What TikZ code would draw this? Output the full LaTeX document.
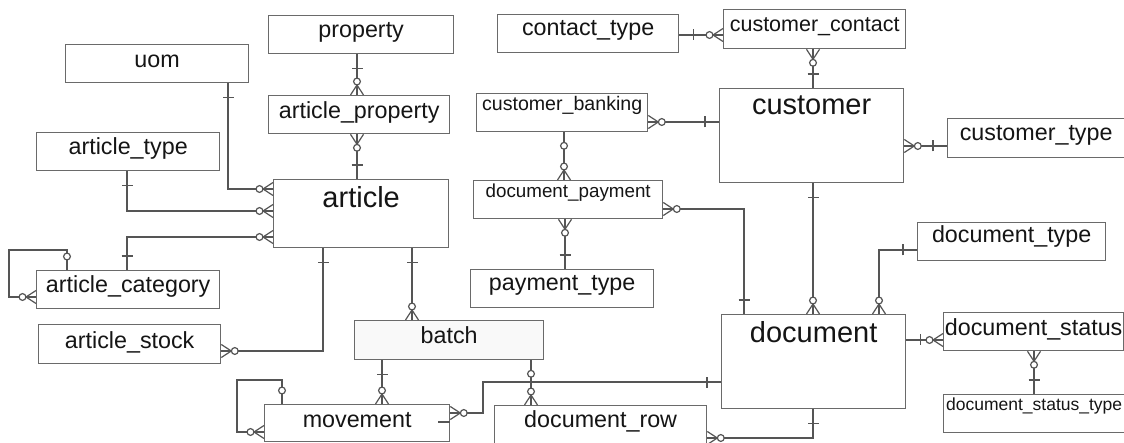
\documentclass[tikz,border=0pt]{standalone}
\usepackage{fontspec}
\setmainfont{Liberation Sans}
\definecolor{boxc}{HTML}{6A6A6A}
\definecolor{linec}{HTML}{555555}
\definecolor{txtc}{HTML}{151515}
\definecolor{batchc}{HTML}{F9F9F9}
\tikzset{
  ent/.style={draw=boxc, line width=1.3pt, fill=white, inner sep=0pt, anchor=north west,
    align=center, text=txtc, font=\fontsize{23.3}{25}\selectfont},
  big/.style={font=\fontsize{29}{31}\selectfont},
  wh/.style n args={4}{minimum width=#1pt, text width=#1pt, minimum height=#2pt,
    text height=#3pt, text depth=#4pt},
  conn/.style={draw=linec, line width=1.2pt},
  erone/.pic={\draw[conn] (14,-5.5)--(14,5.5);},
  erzone/.pic={\draw[conn,fill=white] (13.5,0) circle[radius=3.4pt];},
  ermany/.pic={\draw[conn,line join=miter] (0,-6.5)--(10,0)--(0,6.5);
    \draw[conn,fill=white] (13.5,0) circle[radius=3.4pt];},
}
\begin{document}
\begin{tikzpicture}[x=1pt,y=-1pt]
\useasboundingbox (0,0) rectangle (1124,443);
\fill[white] (0,0) rectangle (1124,443);
\clip (0,0) rectangle (1124,443);

% entities
\node[ent, wh={185}{38}{22}{16}] (prop) at (268,15) {property};
\node[ent, wh={183}{38}{23}{15}] (uom) at (65,44) {uom};
\node[ent, wh={181}{38}{23}{15}] (artprop) at (268,95) {article\_property};
\node[ent, wh={183}{38}{22}{16}] (arttype) at (36,132) {article\_type};
\node[ent, big, wh={175}{68}{28}{40}] (art) at (273,179) {article};
\node[ent, wh={183}{38}{22}{16}] (artcat) at (36,270) {article\_category};
\node[ent, wh={182}{39}{24}{15}] (artstock) at (38,324) {article\_stock};
\node[ent, fill=batchc, wh={189}{39}{23}{16}] (batch) at (354,320) {batch};
\node[ent, wh={185}{37}{23}{14}] (mov) at (264,404) {movement};
\node[ent, wh={212}{42}{22}{20}] (docrow) at (494,405) {document\_row};
\node[ent, wh={181}{38}{21}{17}] (ctype) at (497,14) {contact\_type};
\node[ent, font=\fontsize{21.5}{23}\selectfont, wh={182}{39}{22}{17}] (ccont) at (723,9) {customer\_contact};
\node[ent, big, wh={184}{94}{26}{68}] (cust) at (719,88) {customer};
\node[ent, wh={177}{39}{22}{17}] (custtype) at (947,118) {customer\_type};
\node[ent, font=\fontsize{19.6}{21}\selectfont, wh={171}{38}{17}{21}] (cbank) at (476,93) {customer\_banking};
\node[ent, font=\fontsize{18.8}{20}\selectfont, wh={189}{38}{17}{21}] (dpay) at (473,180) {document\_payment};
\node[ent, wh={183}{38}{21}{17}] (ptype) at (470,269) {payment\_type};
\node[ent, wh={188}{38}{20}{18}] (dtype) at (917,222) {document\_type};
\node[ent, big, wh={184}{94}{28}{66}] (doc) at (721,314) {document};
\node[ent, wh={180}{38}{23}{15}] (dstat) at (943,312) {document\_status};
\node[ent, font=\fontsize{17.5}{19}\selectfont, wh={181}{38}{16}{22}] (dstype) at (943,394) {document\_status\_type};

% connectors
\draw[conn] (prop.south -| 357,0) -- (artprop.north -| 357,0);
\pic[rotate=-90] at (prop.south -| 357,0) {erone};
\pic[rotate=90] at (artprop.north -| 357,0) {ermany};

\draw[conn] (artprop.south -| 357,0) -- (art.north -| 357,0);
\pic[rotate=-90] at (artprop.south -| 357,0) {ermany};
\pic[rotate=90] at (art.north -| 357,0) {erone};

\draw[conn] (uom.south -| 228,0) |- (art.west |- 0,189);
\pic[rotate=-90] at (uom.south -| 228,0) {erone};
\pic[rotate=180] at (art.west |- 0,189) {ermany};

\draw[conn] (arttype.south -| 127,0) |- (art.west |- 0,211);
\pic[rotate=-90] at (arttype.south -| 127,0) {erone};
\pic[rotate=180] at (art.west |- 0,211) {ermany};

\draw[conn] (artcat.north -| 127,0) |- (art.west |- 0,237);
\pic[rotate=90] at (artcat.north -| 127,0) {erone};
\pic[rotate=180] at (art.west |- 0,237) {ermany};

\draw[conn] (artcat.north -| 67,0) -- (67,250) -- (9,250) -- (9,297) -- (artcat.west |- 0,297);
\pic[rotate=90] at (artcat.north -| 67,0) {erzone};
\pic[rotate=180] at (artcat.west |- 0,297) {ermany};

\draw[conn] (art.south -| 323,0) |- (artstock.east |- 0,351);
\pic[rotate=-90] at (art.south -| 323,0) {erone};
\pic at (artstock.east |- 0,351) {ermany};

\draw[conn] (art.south -| 412,0) -- (batch.north -| 412,0);
\pic[rotate=-90] at (art.south -| 412,0) {erone};
\pic[rotate=90] at (batch.north -| 412,0) {ermany};

\draw[conn] (batch.south -| 382,0) -- (mov.north -| 382,0);
\pic[rotate=-90] at (batch.south -| 382,0) {erone};
\pic[rotate=90] at (mov.north -| 382,0) {ermany};

\draw[conn] (mov.north -| 282,0) -- (282,380) -- (237,380) -- (237,432) -- (mov.west |- 0,432);
\pic[rotate=90] at (mov.north -| 282,0) {erzone};
\pic[rotate=180] at (mov.west |- 0,432) {ermany};
\draw[conn] (438,422) -- (mov.east |- 0,422);

\draw[conn] (mov.east |- 0,413) -- (483,413) -- (483,382) -- (doc.west |- 0,382);
\pic at (mov.east |- 0,413) {ermany};
\pic[rotate=180] at (doc.west |- 0,382) {erone};

\draw[conn] (batch.south -| 531,0) -- (docrow.north -| 531,0);
\pic[rotate=-90] at (batch.south -| 531,0) {erzone};
\pic[rotate=90] at (docrow.north -| 531,0) {ermany};

\draw[conn] (doc.south -| 813,0) |- (docrow.east |- 0,438);
\pic[rotate=-90] at (doc.south -| 813,0) {erone};
\pic at (docrow.east |- 0,438) {ermany};

\draw[conn] (ctype.east |- 0,35) -- (ccont.west |- 0,35);
\pic at (ctype.east |- 0,35) {erone};
\pic[rotate=180] at (ccont.west |- 0,35) {ermany};

\draw[conn] (ccont.south -| 813,0) -- (cust.north -| 813,0);
\pic[rotate=-90] at (ccont.south -| 813,0) {ermany};
\pic[rotate=90] at (cust.north -| 813,0) {erone};

\draw[conn] (cbank.east |- 0,122) -- (cust.west |- 0,122);
\pic at (cbank.east |- 0,122) {ermany};
\pic[rotate=180] at (cust.west |- 0,122) {erone};

\draw[conn] (cust.east |- 0,146) -- (custtype.west |- 0,146);
\pic at (cust.east |- 0,146) {ermany};
\pic[rotate=180] at (custtype.west |- 0,146) {erone};

\draw[conn] (cust.south -| 813,0) -- (doc.north -| 813,0);
\pic[rotate=-90] at (cust.south -| 813,0) {erone};
\pic[rotate=90] at (doc.north -| 813,0) {ermany};

\draw[conn] (cbank.south -| 564,0) -- (dpay.north -| 564,0);
\pic[rotate=-90] at (cbank.south -| 564,0) {erzone};
\pic[rotate=90] at (dpay.north -| 564,0) {ermany};

\draw[conn] (dpay.east |- 0,209) -| (doc.north -| 744,0);
\pic at (dpay.east |- 0,209) {ermany};
\pic[rotate=90] at (doc.north -| 744,0) {erone};

\draw[conn] (dpay.south -| 565,0) -- (ptype.north -| 565,0);
\pic[rotate=-90] at (dpay.south -| 565,0) {ermany};
\pic[rotate=90] at (ptype.north -| 565,0) {erone};

\draw[conn] (dtype.west |- 0,250) -| (doc.north -| 879,0);
\pic[rotate=180] at (dtype.west |- 0,250) {erone};
\pic[rotate=90] at (doc.north -| 879,0) {ermany};

\draw[conn] (doc.east |- 0,340) -- (dstat.west |- 0,340);
\pic at (doc.east |- 0,340) {erone};
\pic[rotate=180] at (dstat.west |- 0,340) {ermany};

\draw[conn] (dstat.south -| 1034,0) -- (dstype.north -| 1034,0);
\pic[rotate=-90] at (dstat.south -| 1034,0) {ermany};
\pic[rotate=90] at (dstype.north -| 1034,0) {erone};
\end{tikzpicture}
\end{document}
